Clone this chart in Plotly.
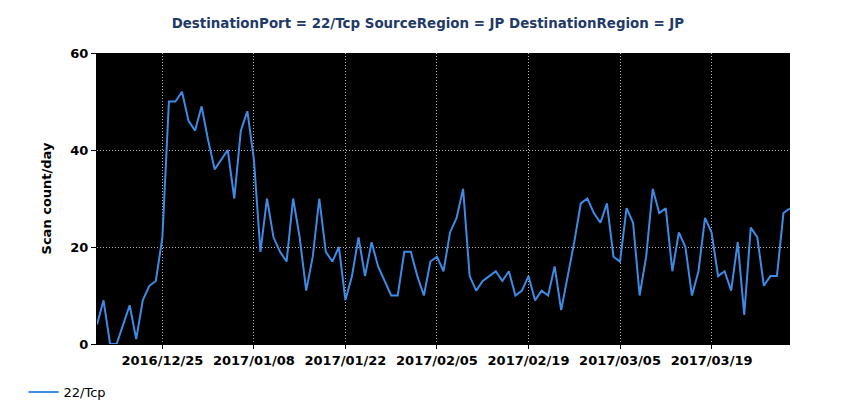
import pandas as pd
import plotly.graph_objects as go

# daily scan counts, 2016/12/15 .. 2017/03/31
start_date = "2016-12-15"
scan_counts = [
    4, 9, 0, 0, 4, 8, 1, 9, 12, 13, 22,
    50, 50, 52, 46, 44, 49, 42, 36, 38, 40, 30, 44, 48,
    38, 19, 30, 22, 19, 17, 30, 22, 11, 18, 30, 19, 17, 20,
    9, 14, 22, 14, 21, 16, 13, 10, 10, 19, 19, 14, 10, 17,
    18, 15, 23, 26, 32, 14, 11, 13, 14, 15, 13, 15, 10, 11,
    14, 9, 11, 10, 16, 7, 14, 21, 29, 30, 27, 25, 29, 18,
    17, 28, 25, 10, 18, 32, 27, 28, 15, 23, 20, 10, 15, 26,
    23, 14, 15, 11, 21, 6, 24, 22, 12, 14, 14, 27, 28,
]
dates = pd.date_range(start_date, periods=len(scan_counts), freq="D")
series_name = "22/Tcp"
title_text = "DestinationPort = 22/Tcp SourceRegion = JP DestinationRegion = JP"

font_family = "Tahoma, DejaVu Sans, sans-serif"

fig = go.Figure()
fig.add_trace(go.Scatter(
    x=dates,
    y=scan_counts,
    mode="lines",
    name=series_name,
    line=dict(color="#3f8ae4", width=2),
))

fig.update_layout(
    width=850,
    height=420,
    paper_bgcolor="white",
    plot_bgcolor="black",
    margin=dict(l=89, r=68, t=45, b=84),
    font=dict(family=font_family, size=13, color="black", weight="bold"),
    title=dict(
        text=title_text,
        x=0.494,
        xanchor="center",
        y=0.964,
        yanchor="middle",
        font=dict(family=font_family, size=13.4, color="#1f3a68", weight="bold"),
    ),
    showlegend=True,
    legend=dict(
        orientation="h",
        x=-0.106,
        xanchor="left",
        y=-0.165,
        yanchor="middle",
        font=dict(family=font_family, size=13, color="black", weight="normal"),
        bgcolor="rgba(0,0,0,0)",
    ),
)

fig.update_xaxes(
    range=[dates[0], dates[-1]],
    tick0="2016-12-25",
    dtick=14 * 86400000,
    tickformat="%Y/%m/%d",
    ticks="outside",
    ticklen=4,
    tickcolor="black",
    showgrid=True,
    gridcolor="#b4b4b4",
    griddash="1px,2px",
    gridwidth=1,
    showline=True,
    linecolor="black",
    zeroline=False,
)

fig.update_yaxes(
    range=[0, 60],
    dtick=20,
    ticks="outside",
    ticklen=5,
    tickcolor="black",
    showgrid=True,
    gridcolor="#b4b4b4",
    griddash="1px,2px",
    gridwidth=1,
    showline=True,
    linecolor="black",
    zeroline=False,
    title=dict(text="Scan count/day", standoff=15,
               font=dict(family=font_family, size=13, weight="bold")),
)

fig.write_html("out.html")
